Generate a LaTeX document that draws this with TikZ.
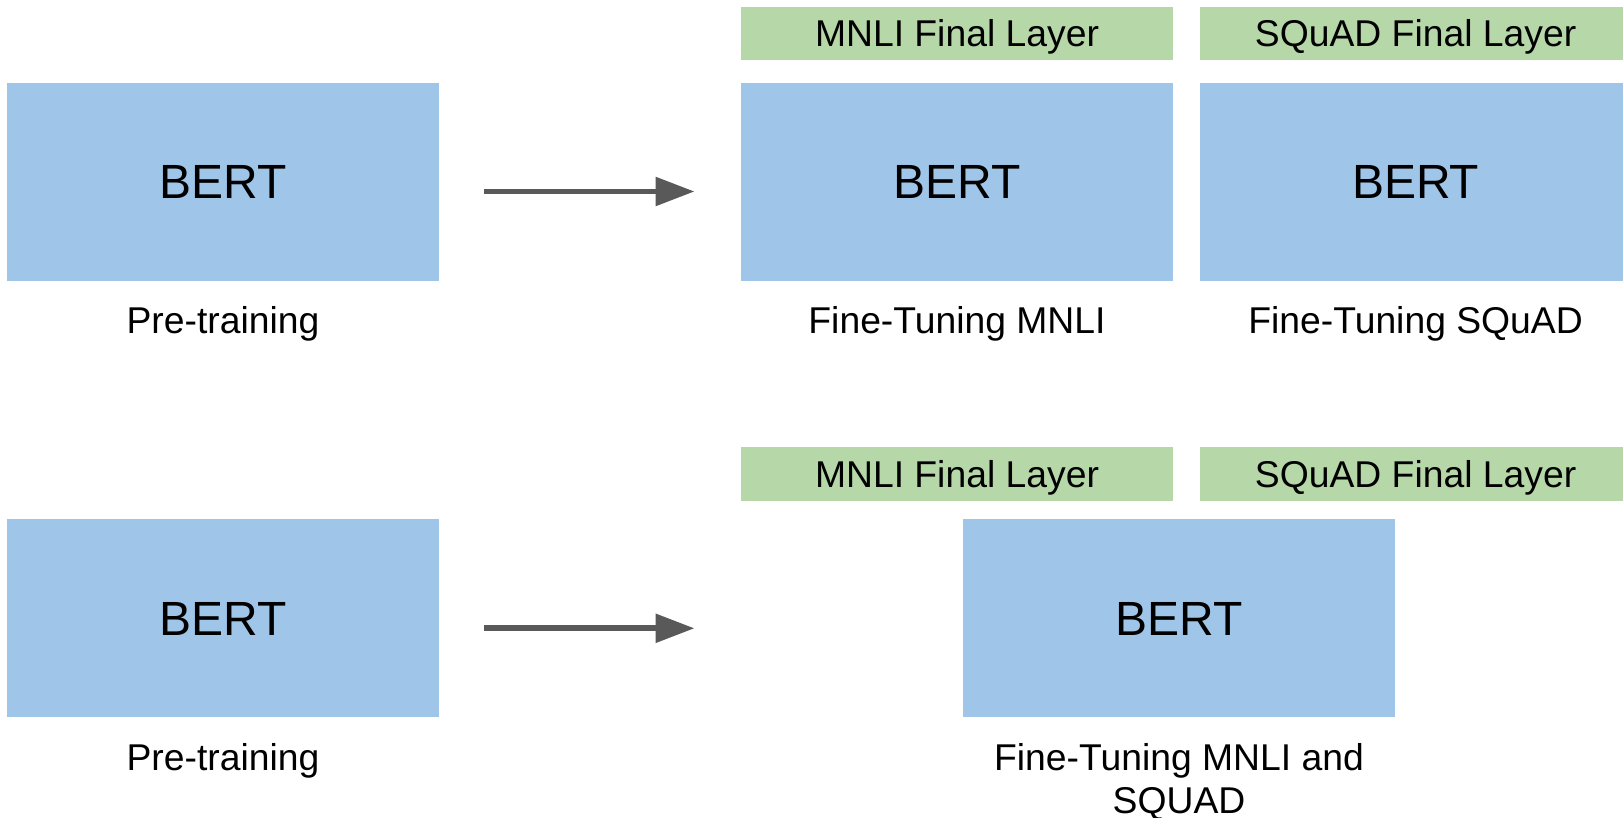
\documentclass[tikz,border=0pt]{standalone}
\usepackage{fontspec}
\setmainfont{Liberation Sans}
\usetikzlibrary{arrows.meta}
\definecolor{bertblue}{HTML}{9FC5E8}
\definecolor{layergreen}{HTML}{B6D7A8}
\definecolor{arrowgray}{HTML}{595959}
\tikzset{
  bertbox/.style={fill=bertblue, draw=none, minimum width=432pt, minimum height=198pt,
    inner sep=0pt, text height=34.4pt, text depth=0pt, font=\fontsize{48}{58}\selectfont},
  layerbox/.style={fill=layergreen, draw=none, minimum width=432pt, minimum height=53.5pt,
    inner sep=0pt, text height=26.7pt, text depth=0pt, font=\fontsize{37.3}{43}\selectfont},
  caption/.style={anchor=base, inner sep=0pt, align=center, font=\fontsize{37.3}{43}\selectfont},
  flowarrow/.style={draw=arrowgray, line width=5.7pt, -{Triangle[length=39pt,width=28pt]}, fill=arrowgray}
}
\begin{document}
\begin{tikzpicture}[x=1pt, y=-1pt]
\useasboundingbox (0,0) rectangle (1623,818);
% top row
\node[bertbox] (pre1) at (223,181.7) {BERT};
\node[caption] (pre1cap) at (223,334) {Pre-training};
\node[layerbox] (mnli1) at (957,33.6) {MNLI Final Layer};
\node[layerbox] (squad1) at (1415.6,33.6) {SQuAD Final Layer};
\node[bertbox] (ft1) at (957,181.7) {BERT};
\node[bertbox] (ft2) at (1415.6,181.7) {BERT};
\node[caption] (ft1cap) at (957,334) {Fine-Tuning MNLI};
\node[caption] (ft2cap) at (1415.6,334) {Fine-Tuning SQuAD};
\coordinate (a1s) at (484,191.5);
\coordinate (a1e) at (694.5,191.5);
\draw[flowarrow] (a1s) -- (a1e);
% bottom row
\node[bertbox] (pre2) at (223,618.3) {BERT};
\node[caption] (pre2cap) at (223,770) {Pre-training};
\node[layerbox] (mnli2) at (957,474) {MNLI Final Layer};
\node[layerbox] (squad2) at (1415.6,474) {SQuAD Final Layer};
\node[bertbox] (joint) at (1179,618.3) {BERT};
\node[caption] (jointcap) at (1179,813) {Fine-Tuning MNLI and\\SQUAD};
\coordinate (a2s) at (484,628.3);
\coordinate (a2e) at (694.5,628.3);
\draw[flowarrow] (a2s) -- (a2e);
\end{tikzpicture}
\end{document}
